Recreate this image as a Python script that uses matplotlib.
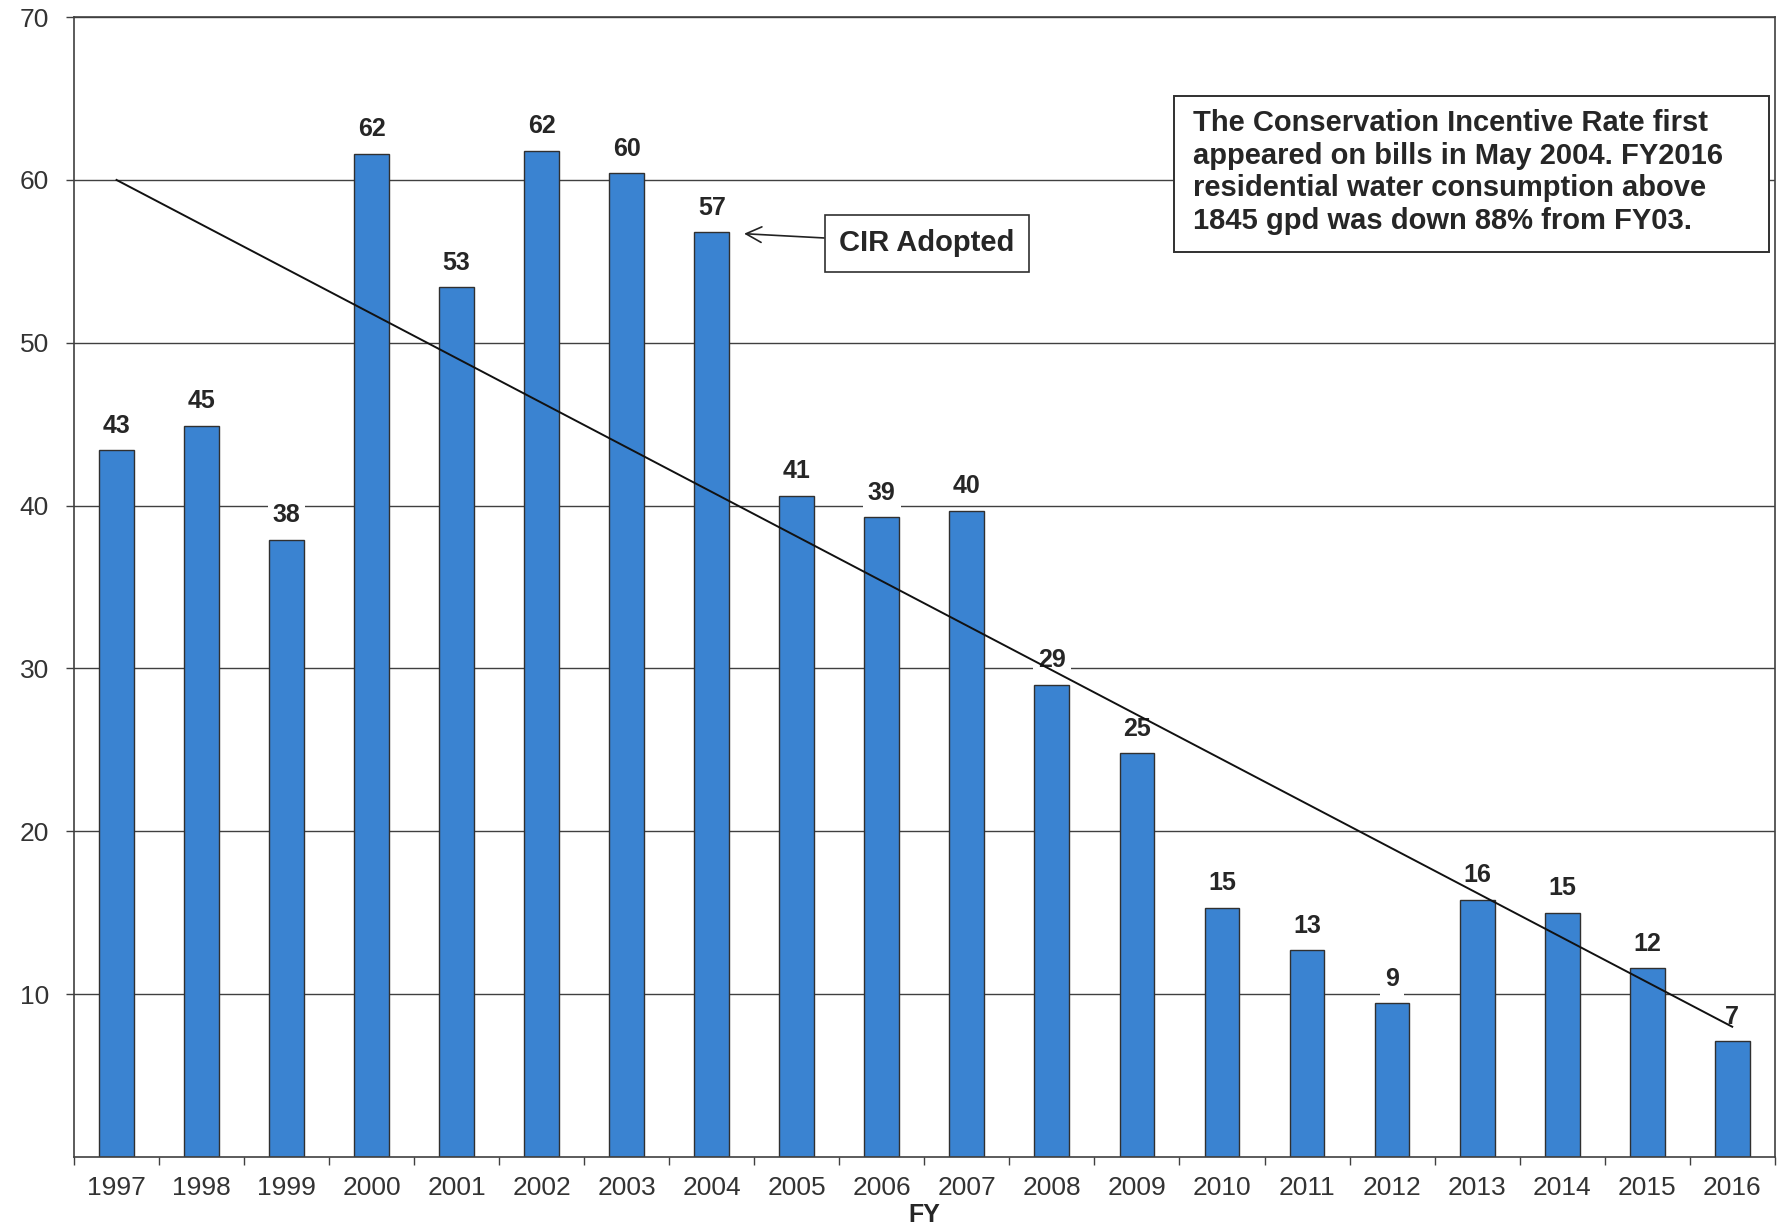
import matplotlib
matplotlib.use("Agg")
import matplotlib.pyplot as plt
from matplotlib.patches import Rectangle
import numpy as np

years = ["1997", "1998", "1999", "2000", "2001", "2002", "2003", "2004", "2005", "2006",
         "2007", "2008", "2009", "2010", "2011", "2012", "2013", "2014", "2015", "2016"]
values = [43.4, 44.9, 37.9, 61.6, 53.4, 61.8, 60.4, 56.8, 40.6, 39.3,
          39.7, 29.0, 24.8, 15.3, 12.7, 9.45, 15.8, 15.0, 11.6, 7.1]
trend_start = 60.0
trend_end = 8.0
yticks = [10, 20, 30, 40, 50, 60, 70]
note_text = ("The Conservation Incentive Rate first\n"
             "appeared on bills in May 2004. FY2016\n"
             "residential water consumption above\n"
             "1845 gpd was down 88% from FY03.")
cir_text = "CIR Adopted"
xlabel = "FY"

plt.rcParams['font.family'] = ['Liberation Sans', 'DejaVu Sans']
txt_color = '#262626'

fig = plt.figure(figsize=(17.79, 12.31), dpi=100)
ax = fig.add_axes([0.0416, 0.0601, 0.956, 0.926])

x = np.arange(len(years))
ax.bar(x, values, width=0.41, color='#3a83d1', edgecolor='#303030', linewidth=1.0, zorder=2)

ax.set_xlim(-0.5, len(years) - 0.5)
ax.set_ylim(0, 70)
ax.set_yticks(yticks)
ax.set_yticklabels([str(v) for v in yticks], fontsize=19, color='#333333')
ax.yaxis.grid(True, color='#404040', linewidth=1.0, zorder=0)
ax.set_axisbelow(True)

ax.set_xticks(x)
ax.set_xticklabels(years, fontsize=19, color='#333333')
ax.set_xticks(np.arange(-0.5, len(years), 1.0), minor=True)
ax.tick_params(axis='x', which='major', length=0, pad=14)
ax.tick_params(axis='x', which='minor', length=6, width=1, color='#404040', direction='out')
ax.tick_params(axis='y', length=6, width=1, color='#404040', direction='out', pad=12)

for s in ax.spines.values():
    s.set_color('#404040')
    s.set_linewidth(1.2)

ax.set_xlabel(xlabel, fontsize=18, fontweight='bold', color=txt_color, labelpad=2)

ax.plot([x[0], x[-1]], [trend_start, trend_end], color='#111111', linewidth=1.4, zorder=6)

for xi, v in zip(x, values):
    ax.annotate(f"{v:.0f}", (xi, v), xytext=(0, 9), textcoords='offset points',
                ha='center', va='bottom', fontsize=18, fontweight='bold', color=txt_color,
                bbox=dict(boxstyle='square,pad=0.2', fc='white', ec='none'), zorder=4)

ax.annotate(cir_text, xy=(7.38, 56.7), xytext=(9.53, 56.1), textcoords='data',
            ha='center', va='center', fontsize=21, fontweight='bold', color=txt_color,
            bbox=dict(boxstyle='square,pad=0.5', fc='white', ec='#303030', lw=1.2),
            arrowprops=dict(arrowstyle='->', color='#222222', lw=1.2, mutation_scale=28,
                            shrinkA=0, shrinkB=0), zorder=7)

ax.add_patch(Rectangle((0.6467, 0.7939), 0.9965 - 0.6467, 0.9307 - 0.7939,
                       transform=ax.transAxes, fc='white', ec='#303030', lw=1.4, zorder=7))
ax.text(0.6578, 0.919, note_text, transform=ax.transAxes, ha='left', va='top',
        fontsize=21, fontweight='bold', color=txt_color, linespacing=1.2, zorder=8)

fig.savefig('out.png', dpi=100)
